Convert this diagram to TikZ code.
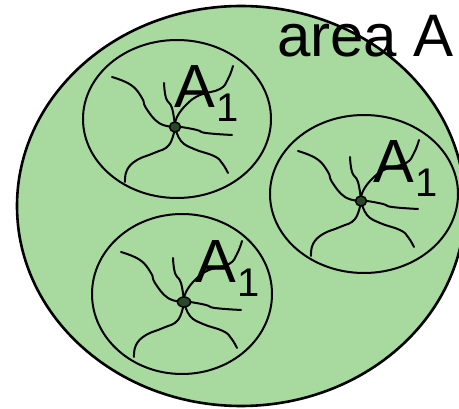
\documentclass[tikz,border=0pt]{standalone}
\usepackage{fontspec}
\setmainfont{Liberation Sans}
\usetikzlibrary{shapes.geometric}
\definecolor{fillgreen}{RGB}{168,218,160}
\definecolor{dotgreen}{RGB}{40,72,40}
\tikzset{
  bigell/.style={draw=black, line width=2.6pt, fill=fillgreen},
  smallell/.style={draw=black, line width=2pt},
  tentacle/.style={draw=black, line width=2pt, line cap=round},
  dotn/.style={ellipse, draw=black, line width=1.5pt, fill=dotgreen, inner sep=0pt, minimum width=11pt, minimum height=10pt},
  lbl/.style={inner sep=0pt, anchor=base west, font=\fontsize{61}{61}\selectfont},
  cluster/.pic={
    \draw[tentacle] plot[smooth, tension=0.75] coordinates {(0,0) (-16,-4) (-29,-19) (-33,-29) (-44,-42) (-63,-50)};
    \draw[tentacle] plot[smooth, tension=0.75] coordinates {(0,0) (-3,-19) (-9,-29) (-11,-44)};
    \draw[tentacle] plot[smooth, tension=0.75] coordinates {(0,0) (2,-10) (12,-23) (25,-32) (45,-38) (53,-48) (58,-61)};
    \draw[tentacle] plot[smooth, tension=0.75] coordinates {(0,0) (6,0) (22,3) (31,6) (57,8)};
    \draw[tentacle] plot[smooth, tension=0.75] coordinates {(0,0) (6,14) (19,22) (39,29) (47,36) (53,46)};
    \draw[tentacle] plot[smooth, tension=0.75] coordinates {(0,0) (-6,18) (-21,26) (-38,33) (-48,43) (-50,55)};
  }
}
\newcommand{\Aone}{A\kern2pt\raisebox{-14pt}{\fontsize{40}{40}\selectfont 1}}
\begin{document}
\begin{tikzpicture}[x=1pt, y=-1pt]
  \fill[white] (0,0) rectangle (459,409);
  \useasboundingbox (0,0) rectangle (459,409);
  \clip (0,0) rectangle (459,409);
  % big area
  \draw[bigell] (241,206) ellipse [x radius=224pt, y radius=200pt];
  % small areas
  \draw[smallell] (177,119) ellipse [x radius=94pt, y radius=79pt];
  \draw[smallell] (364,194) ellipse [x radius=94pt, y radius=79pt];
  \draw[smallell] (182,294) ellipse [x radius=90pt, y radius=80pt];
  % clusters
  \pic at (175,127) {cluster};
  \pic at (361,201) {cluster};
  \pic at (184,302) {cluster};
  \node[dotn] (d1) at (175,127) {};
  \node[dotn] (d2) at (361,201) {};
  \node[dotn, minimum width=13pt] (d3) at (184,302) {};
  % labels
  \node[lbl] (l1) at (174,108) {\Aone};
  \node[lbl] (l2) at (373,183) {\Aone};
  \node[lbl] (l3) at (195,283) {\Aone};
  \node[lbl, font=\fontsize{60}{60}\selectfont] (area) at (277,57) {area A};
\end{tikzpicture}
\end{document}
